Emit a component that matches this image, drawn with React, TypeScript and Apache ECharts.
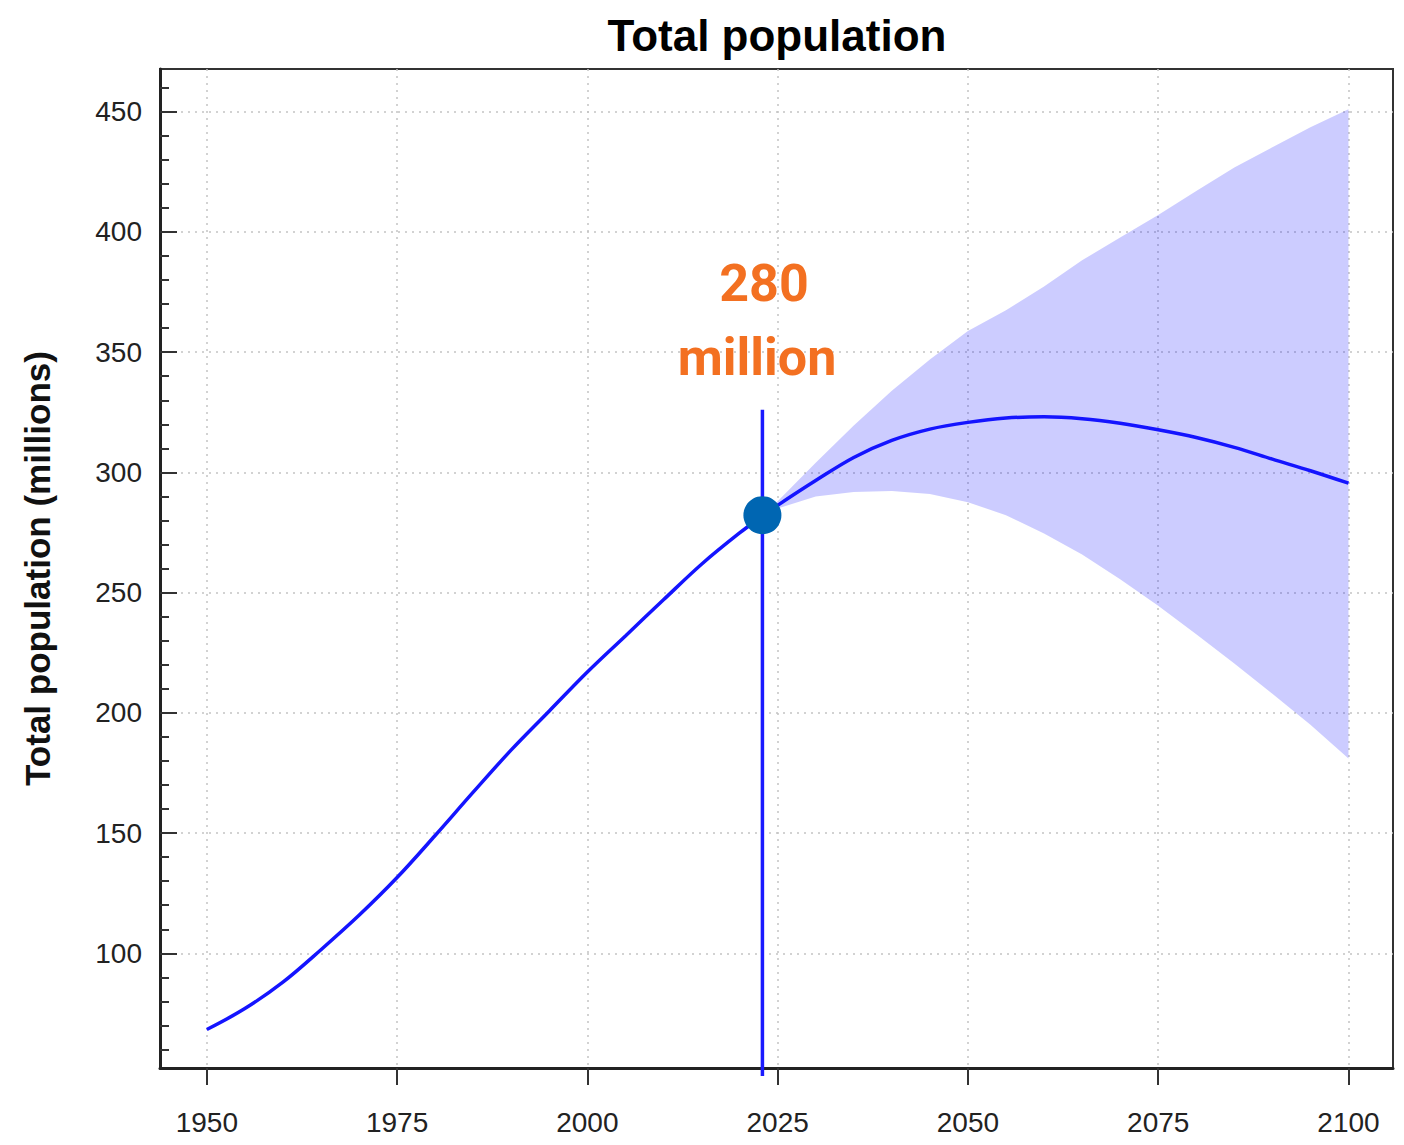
import React, { useEffect, useRef } from "react";
import * as echarts from "echarts";

// Median population (millions)
const years = [1950, 1955, 1960, 1965, 1970, 1975, 1980, 1985, 1990, 1995, 2000, 2005, 2010, 2015, 2020, 2023,
  2025, 2030, 2035, 2040, 2045, 2050, 2055, 2060, 2065, 2070, 2075, 2080, 2085, 2090, 2095, 2100];
const median = [68.3, 77.0, 88.0, 101.5, 115.8, 131.5, 149.0, 167.0, 184.6, 200.8, 217.0, 232.0, 247.0, 261.8, 274.8, 281.8,
  286.3, 296.6, 306.2, 313.3, 318.0, 320.8, 322.6, 323.1, 322.3, 320.4, 317.7, 314.5, 310.4, 305.5, 300.7, 295.5];

// Projection interval (upper / lower bound)
const bandYears = [2023, 2025, 2030, 2035, 2040, 2045, 2050, 2055, 2060, 2065, 2070, 2075, 2080, 2085, 2090, 2095, 2100];
const upper = [282.2, 288, 304, 319.5, 334, 347, 358.8, 367.4, 377.3, 388.2, 397.7, 407, 417, 426.8, 435.2, 443.5, 451];
const lower = [282.2, 285, 290, 291.8, 292.3, 291, 287.6, 282.2, 274.6, 265.9, 255.6, 244.5, 232.7, 220.5, 207.9, 195, 181];

// Current year marker
const currentYear = 2023;
const currentValue = 282.2;
const markerTop = 326;
const markerBottom = 49;

const xTicks = [1950, 1975, 2000, 2025, 2050, 2075, 2100];
const yTicks = [100, 150, 200, 250, 300, 350, 400, 450];

export default function App() {
  const ref = useRef<HTMLDivElement>(null);
  useEffect(() => {
    if (!ref.current) return;
    const chart = echarts.init(ref.current, null, { renderer: "svg" });
    const gridLine = { show: true, lineStyle: { color: "#c4c4c4", type: [2, 5], width: 1.5 } };
    chart.setOption({
      animation: false,
      backgroundColor: "#ffffff",
      textStyle: { fontFamily: "Liberation Sans" },
      grid: { left: 160, top: 69, right: 11, bottom: 77, show: true, borderColor: "#333", borderWidth: 2, backgroundColor: "transparent" },
      xAxis: {
        type: "value",
        min: 1943.85,
        max: 2105.85,
        splitNumber: 6,
        minInterval: 25,
        maxInterval: 25,
        axisLine: { show: true, onZero: false, lineStyle: { color: "#222", width: 3 } },
        axisTick: { show: true, customValues: xTicks, inside: false, length: 17, lineStyle: { color: "#333", width: 2 } },
        axisLabel: { customValues: xTicks, formatter: (v: number) => String(v), fontSize: 28, color: "#222", margin: 40, fontFamily: "Liberation Sans" },
        splitLine: gridLine,
      },
      yAxis: {
        type: "value",
        min: 52.3,
        max: 467.76,
        splitNumber: 8,
        minInterval: 50,
        maxInterval: 50,
        axisLine: { show: true, onZero: false, lineStyle: { color: "#222", width: 3 } },
        axisTick: { show: true, customValues: yTicks, inside: true, length: 17, lineStyle: { color: "#333", width: 2 } },
        minorTick: { show: true, splitNumber: 5, length: 9, lineStyle: { color: "#333", width: 2 } },
        axisLabel: { customValues: yTicks, formatter: (v: number) => String(v), fontSize: 28, color: "#222", margin: 18, fontFamily: "Liberation Sans" },
        splitLine: gridLine,
        name: "Total population (millions)",
        nameLocation: "middle",
        nameGap: 105,
        nameTextStyle: { fontSize: 35, fontWeight: "bold", color: "#111", fontFamily: "Liberation Sans" },
      },
      graphic: [
        {
          type: "text", x: 777, y: 35, z: 10,
          style: { text: "Total population", font: 'bold 44px "Liberation Sans"', fill: "#000", align: "center", verticalAlign: "middle", textAlign: "center", textVerticalAlign: "middle" },
        },
        {
          type: "text", x: 764, y: 283, z: 10,
          style: { text: "280", font: "bold 52px Roboto", fill: "#F37021", align: "center", verticalAlign: "middle", textAlign: "center", textVerticalAlign: "middle" },
        },
        {
          type: "text", x: 757, y: 357, z: 10,
          style: { text: "million", font: "bold 52px Roboto", fill: "#F37021", align: "center", verticalAlign: "middle", textAlign: "center", textVerticalAlign: "middle" },
        },
      ],
      series: [
        {
          type: "custom",
          name: "band",
          data: [0],
          silent: true,
          z: 1,
          renderItem: (_params: any, api: any) => {
            const pts: number[][] = [];
            for (let i = 0; i < bandYears.length; i++) pts.push(api.coord([bandYears[i], upper[i]]));
            for (let i = bandYears.length - 1; i >= 0; i--) pts.push(api.coord([bandYears[i], lower[i]]));
            return {
              type: "polygon",
              shape: { points: pts },
              style: { fill: "rgba(0,0,255,0.2)", stroke: "none" },
            };
          },
        },
        {
          type: "line",
          name: "median",
          data: years.map((y, i) => [y, median[i]]),
          symbol: "none",
          smooth: 0.35,
          lineStyle: { color: "#1414FF", width: 3.5 },
          z: 3,
        },
        {
          type: "line",
          name: "marker",
          data: [[currentYear, markerTop], [currentYear, markerBottom]],
          symbol: "none",
          clip: false,
          lineStyle: { color: "#1a1aff", width: 3.5 },
          z: 4,
        },
        {
          type: "scatter",
          name: "current",
          data: [[currentYear, currentValue]],
          symbolSize: 38,
          itemStyle: { color: "#0066B2", opacity: 1 },
          z: 5,
        },
      ],
    });
    return () => chart.dispose();
  }, []);
  return <div ref={ref} style={{ position: "fixed", left: 0, top: 0, width: 1404, height: 1145 }} />;
}
